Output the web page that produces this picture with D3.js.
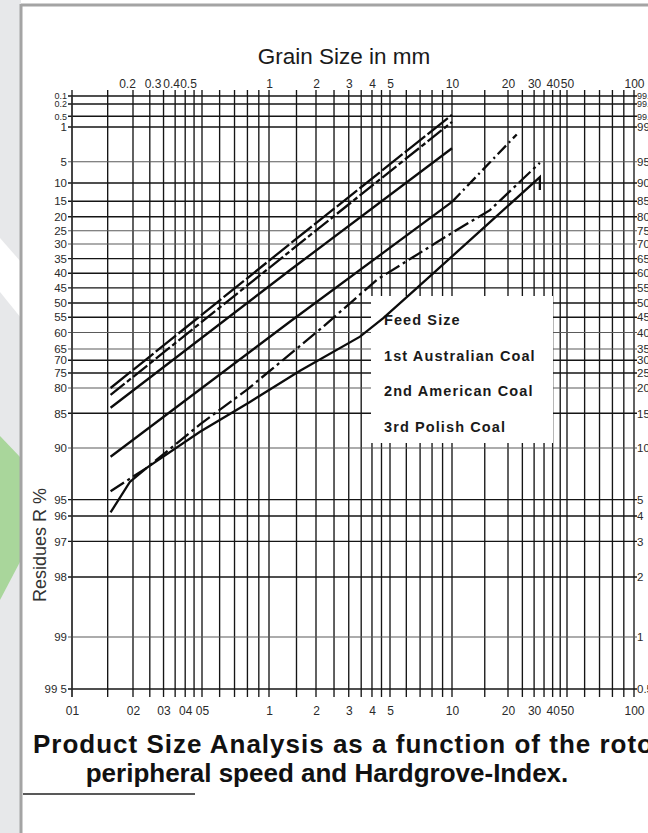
<!DOCTYPE html>
<html>
<head>
<meta charset="utf-8">
<script src="https://cdn.jsdelivr.net/npm/d3@7"></script>
<style>
  body { margin: 0; background: #fff; }
  svg { display: block; font-family: "Liberation Sans", Arial, Helvetica, sans-serif; }
  .tick text { fill: #2a2a2a; }
</style>
</head>
<body>
<svg id="chart" width="648" height="833"></svg>
<script>
/* ---- data ---- */

// vertical rulings of the grain size grid, mm
var sizeGrid = [0.1,0.15,0.2,0.25,0.3,0.35,0.4,0.45,0.5,0.6,0.7,0.8,0.9,
                1,1.5,2,2.5,3,3.5,4,4.5,5,6,7,8,9,
                10,15,20,25,30,35,40,45,50,60,70,80,90,100];
var sizeTopTicks = [0.2,0.3,0.4,0.5,1,2,3,4,5,10,20,30,40,50,100];
var sizeBottomTicks = [0.1,0.2,0.3,0.4,0.5,1,2,3,4,5,10,20,30,40,50,100];
var sizeBottomText = ["01","02","03","04","05","1","2","3","4","5","10","20","30","40","50","100"];

// residues R % (left) and passing D % = 100 - R (right, cut by the page edge)
var residueTicks = [0.1,0.2,0.5,1,5,10,15,20,25,30,35,40,45,50,55,60,65,70,75,80,85,90,95,96,97,98,99,99.5];
var residueText  = ["0.1","0.2","0.5","1","5","10","15","20","25","30","35","40","45","50","55","60","65","70","75","80","85","90","95","96","97","98","99","99 5"];
var passingText  = ["99.9","99.8","99.5","99","95","90","85","80","75","70","65","60","55","50","45","40","35","30","25","20","15","10","5","4","3","2","1","0.5"];
var faintRows = [5,25,30,60,65,80,90,99];

var legendNames = ["Feed Size","1st Australian Coal","2nd American Coal","3rd Polish Coal"];

// curves: [grain size mm, residue %]
var curveA = [[0.155,80],[1.36,30],[10,0.45]];
var curveB = [[0.155,81.5],[1.36,32.5],[10,0.73]];
var curveC = [[0.155,84],[1.36,39],[10,2.9]];
var curveD = [[0.155,91.1],[1.36,56.5],[10,15.2]];
var curveDtail = [[10,15.2],[22.9,1.5]];
var curveE = [[0.155,94.4],[0.241,92.3],[0.487,86.8],[0.8,80.3],[2.18,58.2],[4.26,42.2],[10.6,24.7],[16,17.8],[32.8,5.2]];
var curveF = [[0.155,95.8],[0.193,93.65],[0.241,92.3],[0.487,87.9],[0.821,82.9],[1.58,74.2],[3.45,61.3],[4.6,55.3],[6.6,45.7],[16,21.9],[32.8,8.4],[32.8,11.8]];

/* ---- page ---- */
var svg = d3.select("#chart");

// left margin of the web page the scan sits in
svg.append("rect").attr("x",0).attr("y",0).attr("width",21).attr("height",833).attr("fill","#e7e8ea");
svg.append("polygon").attr("points","0,238 0,292 21,318 21,262").attr("fill","#ffffff");
svg.append("polygon").attr("points","0,436 21,458 21,560 0,600").attr("fill","#a9d69b");
svg.append("line").attr("x1",21).attr("x2",21).attr("y1",4).attr("y2",833).attr("stroke","#a4a4a4").attr("stroke-width",3);
svg.append("line").attr("x1",21).attr("x2",648).attr("y1",5).attr("y2",5).attr("stroke","#a4a4a4").attr("stroke-width",3);

/* ---- scales (the printed sheet is not a perfect log / RRSB ruling, so anchor it) ---- */
var x = d3.scaleLog()
  .domain([0.1,0.2,0.5,1,2,5,10,20,50,100])
  .range([72,133,202,269,316,390,452,508,567,634]);

function rr(R) { return Math.log10(Math.log(100 / R)); }   // Rosin-Rammler transform
var yAnchors = [0.1,1,10,30,50,65,80,90,96,98,99,99.5];
var y = d3.scaleLinear()
  .domain(yAnchors.map(rr))
  .range([96,127,183,244,303,349,388,448,516,577,637,689]);
function yR(R) { return y(rr(R)); }

/* ---- grid ---- */
var grid = svg.append("g").attr("class","grid");

grid.selectAll("line.v")
  .data(sizeGrid)
  .enter().append("line")
    .attr("class","v")
    .attr("x1", function(d){ return x(d); })
    .attr("x2", function(d){ return x(d); })
    .attr("y1", 90)
    .attr("y2", 697)
    .attr("stroke","#151515")
    .attr("stroke-width",1.35);

grid.selectAll("line.h")
  .data(residueTicks)
  .enter().append("line")
    .attr("class","h")
    .attr("x1", 68)
    .attr("x2", 637)
    .attr("y1", function(d){ return yR(d); })
    .attr("y2", function(d){ return yR(d); })
    .attr("stroke", function(d){ return faintRows.indexOf(d) >= 0 ? "#5a5a5a" : "#151515"; })
    .attr("stroke-width", function(d){ return faintRows.indexOf(d) >= 0 ? 1.1 : 1.45; });

// frame
svg.append("line").attr("x1",x(0.1)).attr("x2",x(0.1)).attr("y1",yR(0.1)).attr("y2",697).attr("stroke","#333").attr("stroke-width",1.2);

/* ---- axes (labels only) ---- */
// the printed top labels of the first decade sit a little left of their rulings
function topShift(d){ return d < 0.25 ? -6 : d < 0.35 ? -11 : d < 1 ? -14 : 0; }

var topAxis = d3.axisTop(x).tickValues(sizeTopTicks).tickSize(0).tickPadding(3)
  .tickFormat(function(d){ return String(d); });
svg.append("g").attr("transform","translate(0,91)").call(topAxis)
  .call(function(g){ g.select(".domain").remove(); })
  .selectAll("text")
    .attr("font-size",12)
    .attr("dx", function(d){ return topShift(d); });

var bottomAxis = d3.axisBottom(x).tickValues(sizeBottomTicks).tickSize(0).tickPadding(5)
  .tickFormat(function(d,i){ return sizeBottomText[i]; });
svg.append("g").attr("transform","translate(0,701)").call(bottomAxis)
  .call(function(g){ g.select(".domain").remove(); })
  .selectAll("text").attr("font-size",12);

var leftAxis = d3.axisLeft(y).tickValues(residueTicks.map(rr)).tickSize(0).tickPadding(3)
  .tickFormat(function(d,i){ return residueText[i]; });
svg.append("g").attr("transform","translate(70,0)").call(leftAxis)
  .call(function(g){ g.select(".domain").remove(); })
  .selectAll("text")
    .attr("font-size", function(d,i){ return residueTicks[i] < 1 ? 9 : 11.5; })
    .attr("fill","#3a3a3a");

var rightAxis = d3.axisRight(y).tickValues(residueTicks.map(rr)).tickSize(0).tickPadding(3)
  .tickFormat(function(d,i){ return passingText[i]; });
svg.append("g").attr("transform","translate(634,0)").call(rightAxis)
  .call(function(g){ g.select(".domain").remove(); })
  .selectAll("text")
    .attr("font-size", function(d,i){ return residueTicks[i] < 1 ? 9 : 11.5; })
    .attr("fill","#2a2a2a");

/* ---- legend box (white panel over the grid) ---- */
svg.append("rect")
  .attr("x",371).attr("y",296).attr("width",182).attr("height",147)
  .attr("fill","#fff");

svg.append("g").selectAll("text")
  .data(legendNames)
  .enter().append("text")
    .attr("x",384)
    .attr("y", function(d,i){ return 325 + i*35.5; })
    .attr("font-size",14.5)
    .attr("font-weight","bold")
    .attr("letter-spacing",1.1)
    .attr("fill","#1a1a1a")
    .text(function(d){ return d; });

/* ---- curves ---- */
var line = d3.line()
  .x(function(d){ return x(d[0]); })
  .y(function(d){ return yR(d[1]); });

var curves = [
  {pts: curveA, dash: "26,3"},
  {pts: curveB, dash: "18,3,5,3"},
  {pts: curveC, dash: null},
  {pts: curveD, dash: null},
  {pts: curveDtail, dash: "12,4,2,4"},
  {pts: curveE, dash: "16,4,3,4"},
  {pts: curveF, dash: null}
];

svg.append("g").selectAll("path")
  .data(curves)
  .enter().append("path")
    .attr("d", function(d){ return line(d.pts); })
    .attr("fill","none")
    .attr("stroke","#0c0c0c")
    .attr("stroke-width",2.3)
    .attr("stroke-dasharray", function(d){ return d.dash; });

/* ---- titles ---- */
svg.append("text")
  .attr("x",344).attr("y",64)
  .attr("text-anchor","middle")
  .attr("font-size",22.5)
  .attr("fill","#1a1a1a")
  .text("Grain Size in mm");

svg.append("text")
  .attr("transform","translate(46,545) rotate(-90)")
  .attr("text-anchor","middle")
  .attr("font-size",18)
  .attr("fill","#333")
  .text("Residues R %");

svg.append("text")
  .attr("x",33).attr("y",753)
  .attr("font-size",26)
  .attr("font-weight","bold")
  .attr("letter-spacing",1.0)
  .attr("fill","#111")
  .text("Product Size Analysis as a function of the rotor");

svg.append("text")
  .attr("x",327).attr("y",782)
  .attr("text-anchor","middle")
  .attr("font-size",26)
  .attr("font-weight","bold")
  .attr("fill","#111")
  .text("peripheral speed and Hardgrove-Index.");

svg.append("line")
  .attr("x1",23).attr("x2",195).attr("y1",794).attr("y2",794)
  .attr("stroke","#222").attr("stroke-width",1.5);
</script>
</body>
</html>
